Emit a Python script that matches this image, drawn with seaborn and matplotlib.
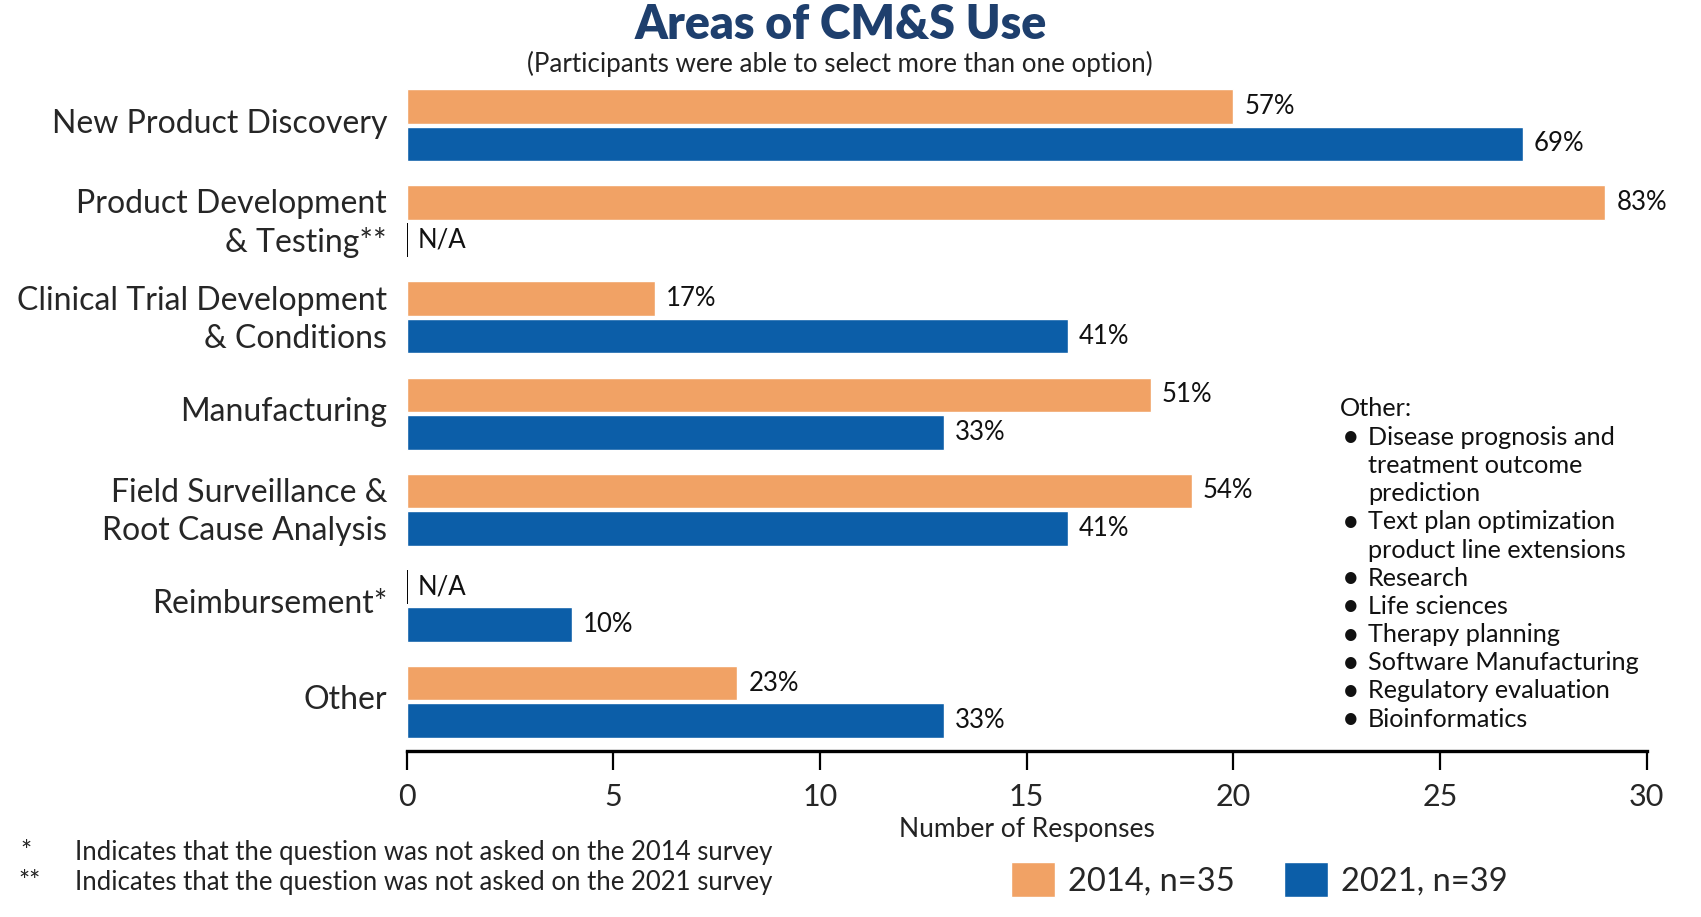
import numpy as np
import pandas as pd
import matplotlib
matplotlib.use("Agg")
import matplotlib.pyplot as plt
import matplotlib.transforms as mtransforms
import seaborn as sns

# data (number of responses)
categories = ["New Product Discovery", "Product Development\n& Testing**",
              "Clinical Trial Development\n& Conditions", "Manufacturing",
              "Field Surveillance &\nRoot Cause Analysis", "Reimbursement*", "Other"]
counts_2014 = [20, 29, 6, 18, 19, 0, 8]
counts_2021 = [27, 0, 16, 13, 16, 4, 13]
pct_2014 = ["57%", "83%", "17%", "51%", "54%", "N/A", "23%"]
pct_2021 = ["69%", "N/A", "41%", "33%", "41%", "10%", "33%"]
series = ["2014, n=35", "2021, n=39"]

other_items = ["Disease prognosis and\ntreatment outcome\nprediction",
               "Text plan optimization\nproduct line extensions",
               "Research", "Life sciences", "Therapy planning",
               "Software Manufacturing", "Regulatory evaluation", "Bioinformatics"]

orange = "#F1A265"
blue = "#0C5EA8"
navy = "#1E3F6D"

df = pd.DataFrame({
    "category": categories * 2,
    "survey": [series[0]] * len(categories) + [series[1]] * len(categories),
    "count": counts_2014 + counts_2021,
})

sns.set_style("white")
plt.rcParams['font.family'] = ['Lato', 'DejaVu Sans']

fig = plt.figure(figsize=(17.01, 9.17), dpi=100)
ax = fig.add_axes([0.239, 0.181, 0.729, 0.735])

sns.barplot(data=df, y="category", x="count", hue="survey", orient="h",
            palette=[orange, blue], saturation=1, width=0.78, gap=0.08, ax=ax)

ax.set_xlim(0, 30)
ax.set_ylim(6.51, -0.5)
ax.set_xticks(range(0, 31, 5))
ax.set_ylabel("")
ax.set_xlabel("Number of Responses", fontsize=19, color="#222222", labelpad=4)
for s in ["top", "right", "left"]:
    ax.spines[s].set_visible(False)
ax.spines["bottom"].set_linewidth(2.4)
ax.spines["bottom"].set_color("black")
ax.tick_params(axis="x", direction="out", length=14, width=1.6, color="black",
               labelsize=22, pad=9, bottom=True)
ax.tick_params(axis="y", length=0, labelsize=23, pad=14)
lift = mtransforms.ScaledTranslation(0, 0.045, fig.dpi_scale_trans)
for t in ax.get_yticklabels():
    t.set_linespacing(1.32)
    t.set_transform(t.get_transform() + lift)

# value labels, and a thin line at zero where the question was not asked
for cont, labels in zip(ax.containers, [pct_2014, pct_2021]):
    ax.bar_label(cont, labels=labels, padding=8, fontsize=18.5, color="#111111")
    for p in cont.patches:
        if p.get_width() == 0:
            ax.plot([0, 0], [p.get_y(), p.get_y() + p.get_height()],
                    color="black", lw=1.4, solid_capstyle="butt")

leg = ax.get_legend()
handles = leg.legend_handles
labels = [t.get_text() for t in leg.texts]
leg.remove()
fig.legend(handles, labels, loc="center left", bbox_to_anchor=(0.577, 0.041),
           ncol=2, frameon=False, fontsize=23.5, handlelength=1.35, handleheight=1.3,
           handletextpad=0.4, columnspacing=1.5)

fig.text(0.494, 0.957, "Areas of CM&S Use", ha="center", va="baseline",
         fontsize=33.5, fontweight="heavy", color=navy)
fig.text(0.494, 0.922, "(Participants were able to select more than one option)",
         ha="center", va="baseline", fontsize=18.7, color="#222222")

# "Other" breakdown
step = 28.2 / 917
y = 1 - 409 / 917
fig.text(1340 / 1701, y, "Other:", ha="left", va="center", fontsize=18.2, color="#111111")
for item in other_items:
    for i, line in enumerate(item.split("\n")):
        y -= step
        if i == 0:
            fig.text(1342 / 1701, y, "\u2022", ha="left", va="center", fontsize=22, color="#111111")
        fig.text(1368 / 1701, y, line, ha="left", va="center", fontsize=18.2, color="#111111")

# footnotes
fig.text(20 / 1701, 0.070, "*", ha="left", va="center", fontsize=19, color="#222222")
fig.text(75 / 1701, 0.070, "Indicates that the question was not asked on the 2014 survey",
         ha="left", va="center", fontsize=18.5, color="#222222")
fig.text(18 / 1701, 0.038, "**", ha="left", va="center", fontsize=19, color="#222222")
fig.text(75 / 1701, 0.038, "Indicates that the question was not asked on the 2021 survey",
         ha="left", va="center", fontsize=18.5, color="#222222")

fig.savefig("out.png", dpi=100)
